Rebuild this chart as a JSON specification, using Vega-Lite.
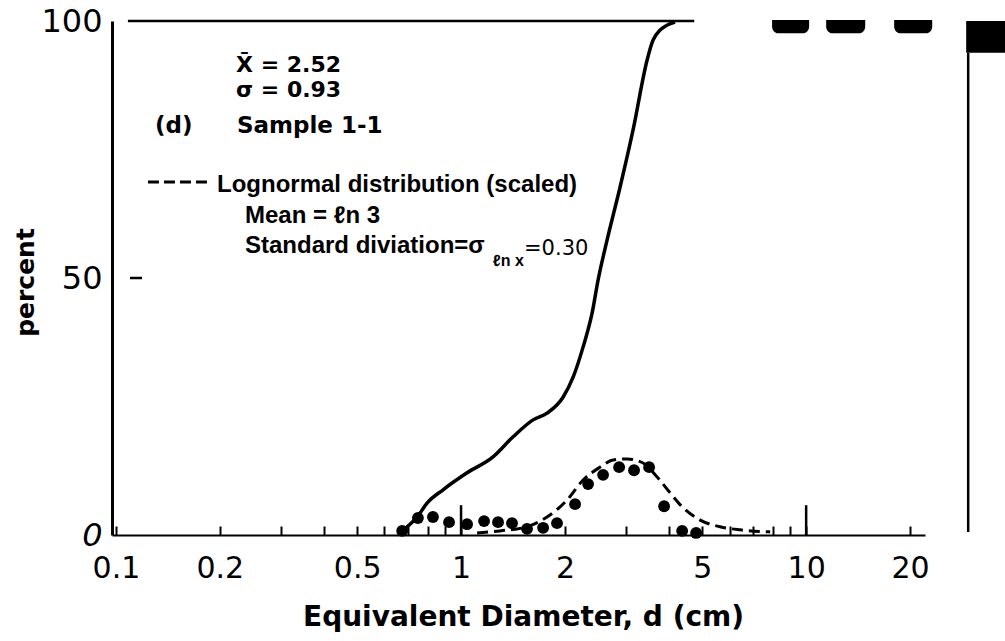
{
  "$schema": "https://vega.github.io/schema/vega-lite/v6.json",
  "autosize": "none",
  "padding": {"left": 112, "top": 21, "right": 80, "bottom": 106},
  "width": 813,
  "height": 514,
  "background": "white",
  "config": {"view": {"stroke": null}},
  "encoding": {
    "x": {
      "field": "d", "type": "quantitative",
      "scale": {"type": "log", "domain": [0.0974, 22.1], "nice": false},
      "title": "Equivalent Diameter, d  (cm)",
      "axis": {
        "values": [0.1,0.2,0.3,0.4,0.5,0.6,0.7,0.8,0.9,1,2,3,4,5,6,7,8,9,10,20],
        "labelExpr": "indexof([0.1,0.2,0.5,1,2,5,10,20], datum.value) >= 0 ? (datum.value < 1 ? format(datum.value, '.1f') : format(datum.value, 'd')) : ''",
        "grid": false,
        "domainColor": "black", "domainWidth": 2,
        "tickColor": "black", "tickWidth": 2, "tickSize": -9,
        "labelFont": "DejaVu Sans", "labelFontSize": 30, "labelColor": "black",
        "labelPadding": 27, "labelOverlap": false, "labelBound": false, "labelFlush": false,
        "titleFont": "DejaVu Sans", "titleFontWeight": "bold", "titleFontSize": 28, "titleColor": "black",
        "titleX": 411, "titleY": 90, "titleBaseline": "alphabetic", "titleAlign": "center"
      }
    },
    "y": {
      "field": "pct", "type": "quantitative",
      "scale": {"domain": [0, 100], "nice": false, "zero": true},
      "title": "percent",
      "axis": {
        "values": [0, 50, 100],
        "grid": false, "ticks": false,
        "domainColor": "black", "domainWidth": 3,
        "labelFont": "DejaVu Sans", "labelFontSize": 32, "labelColor": "black", "labelPadding": 10,
        "labelFontStyle": {"condition": {"test": "datum.value == 0", "value": "italic"}, "value": "normal"},
        "titleFont": "DejaVu Sans", "titleFontWeight": "bold", "titleFontSize": 25, "titleColor": "black",
        "titleX": -87, "titleY": 261, "titleAngle": 270, "titleAlign": "center", "titleBaseline": "middle"
      }
    }
  },
  "layer": [
    {
      "data": {"values": [
        {"d": 0.1083, "d2": 4.74, "pct": 100},
        {"d": 0.1098, "d2": 0.119, "pct": 50}
      ]},
      "mark": {"type": "rule", "color": "black", "strokeWidth": 2.5},
      "encoding": {"x2": {"field": "d2"}}
    },
    {
      "data": {"values": [
        {"d": 1, "pct": 0, "pct2": 5.8},
        {"d": 10, "pct": 0, "pct2": 5.8},
        {"d": 29.48, "pct": 0.6, "pct2": 93.8}
      ]},
      "mark": {"type": "rule", "color": "black", "strokeWidth": 2.5},
      "encoding": {"y2": {"field": "pct2"}}
    },
    {
      "data": {"values": [
        {"d": 7.967, "d2": 10.2, "pct": 97.6, "pct2": 100.2},
        {"d": 11.43, "d2": 14.83, "pct": 97.6, "pct2": 100.2},
        {"d": 17.99, "d2": 23.19, "pct": 97.6, "pct2": 100.2}
      ]},
      "mark": {"type": "rect", "color": "black", "cornerRadiusBottomLeft": 7, "cornerRadiusBottomRight": 7},
      "encoding": {"x2": {"field": "d2"}, "y2": {"field": "pct2"}}
    },
    {
      "data": {"values": [
        {"d": 29.09, "d2": 38.24, "pct": 93.8, "pct2": 100}
      ]},
      "mark": {"type": "rect", "color": "black"},
      "encoding": {"x2": {"field": "d2"}, "y2": {"field": "pct2"}}
    },
    {
      "data": {"values": [
        {"d": 0.657, "pct": 0},
        {"d": 0.666, "pct": 0.4},
        {"d": 0.698, "pct": 1.6},
        {"d": 0.746, "pct": 3.5},
        {"d": 0.797, "pct": 6.2},
        {"d": 0.887, "pct": 8.8},
        {"d": 1.041, "pct": 12.1},
        {"d": 1.238, "pct": 15.2},
        {"d": 1.415, "pct": 19.1},
        {"d": 1.617, "pct": 22.4},
        {"d": 1.775, "pct": 23.7},
        {"d": 1.975, "pct": 26.8},
        {"d": 2.112, "pct": 30.7},
        {"d": 2.258, "pct": 36.6},
        {"d": 2.398, "pct": 43.2},
        {"d": 2.495, "pct": 49.6},
        {"d": 2.65, "pct": 57.4},
        {"d": 2.89, "pct": 67.7},
        {"d": 3.151, "pct": 78.8},
        {"d": 3.461, "pct": 92.4},
        {"d": 3.602, "pct": 96.3},
        {"d": 3.955, "pct": 99.2},
        {"d": 4.17, "pct": 99.8}
      ]},
      "mark": {"type": "line", "color": "black", "strokeWidth": 3.5, "interpolate": "monotone"}
    },
    {
      "data": {"values": [
        {"d": 1.113, "pct": 0.4},
        {"d": 1.297, "pct": 0.8},
        {"d": 1.553, "pct": 1.6},
        {"d": 1.775, "pct": 3.5},
        {"d": 2.029, "pct": 6.8},
        {"d": 2.258, "pct": 10.7},
        {"d": 2.528, "pct": 13.2},
        {"d": 2.758, "pct": 14.6},
        {"d": 3.028, "pct": 14.8},
        {"d": 3.37, "pct": 14.0},
        {"d": 3.7, "pct": 11.3},
        {"d": 4.035, "pct": 8.2},
        {"d": 4.401, "pct": 5.3},
        {"d": 4.93, "pct": 2.9},
        {"d": 5.633, "pct": 1.6},
        {"d": 6.438, "pct": 1.0},
        {"d": 7.866, "pct": 0.6}
      ]},
      "mark": {"type": "line", "color": "black", "strokeWidth": 3, "strokeDash": [11, 6], "interpolate": "monotone"}
    },
    {
      "data": {"values": [
        {"d": 0.675, "pct": 0.8},
        {"d": 0.75, "pct": 3.3},
        {"d": 0.829, "pct": 3.5},
        {"d": 0.923, "pct": 2.5},
        {"d": 1.041, "pct": 2.1},
        {"d": 1.166, "pct": 2.7},
        {"d": 1.28, "pct": 2.5},
        {"d": 1.405, "pct": 2.3},
        {"d": 1.553, "pct": 1.2},
        {"d": 1.729, "pct": 1.4},
        {"d": 1.897, "pct": 2.3},
        {"d": 2.14, "pct": 6.0},
        {"d": 2.334, "pct": 9.9},
        {"d": 2.58, "pct": 11.7},
        {"d": 2.871, "pct": 13.2},
        {"d": 3.172, "pct": 12.6},
        {"d": 3.507, "pct": 13.2},
        {"d": 3.876, "pct": 5.6},
        {"d": 4.372, "pct": 0.8},
        {"d": 4.799, "pct": 0.4}
      ]},
      "mark": {"type": "circle", "color": "black", "opacity": 1, "size": 140}
    },
    {
      "data": {"values": [{"d": 0.1238, "d2": 0.1836, "pct": 68.68}]},
      "mark": {"type": "rule", "color": "black", "strokeWidth": 3, "strokeDash": [11, 5]},
      "encoding": {"x2": {"field": "d2"}}
    },
    {
      "data": {"values": [
        {"d": 0.2228, "pct": 90.08, "t": "X̄ = 2.52"},
        {"d": 0.2228, "pct": 85.2, "t": "σ = 0.93"}
      ]},
      "mark": {"type": "text", "align": "left", "baseline": "alphabetic", "font": "DejaVu Sans", "fontWeight": "bold", "fontSize": 22, "color": "black"},
      "encoding": {"text": {"field": "t"}}
    },
    {
      "data": {"values": [
        {"d": 0.1297, "pct": 78.2, "t": "(d)"},
        {"d": 0.2242, "pct": 78.2, "t": "Sample 1-1"}
      ]},
      "mark": {"type": "text", "align": "left", "baseline": "alphabetic", "font": "DejaVu Sans", "fontWeight": "bold", "fontSize": 23, "color": "black"},
      "encoding": {"text": {"field": "t"}}
    },
    {
      "data": {"values": [
        {"d": 0.1963, "pct": 66.73, "t": "Lognormal distribution (scaled)"},
        {"d": 0.2365, "pct": 60.7, "t": "Mean = ℓn 3"},
        {"d": 0.2365, "pct": 54.86, "t": "Standard diviation=σ"}
      ]},
      "mark": {"type": "text", "align": "left", "baseline": "alphabetic", "font": "Liberation Sans", "fontWeight": "bold", "fontSize": 24, "color": "black"},
      "encoding": {"text": {"field": "t"}}
    },
    {
      "data": {"values": [{"d": 1.238, "pct": 52.33, "t": "ℓn x"}]},
      "mark": {"type": "text", "align": "left", "baseline": "alphabetic", "font": "Liberation Sans", "fontWeight": "bold", "fontSize": 16, "color": "black"},
      "encoding": {"text": {"field": "t"}}
    },
    {
      "data": {"values": [{"d": 1.522, "pct": 54.47, "t": "=0.30"}]},
      "mark": {"type": "text", "align": "left", "baseline": "alphabetic", "font": "DejaVu Sans", "fontSize": 21, "color": "black"},
      "encoding": {"text": {"field": "t"}}
    }
  ]
}
